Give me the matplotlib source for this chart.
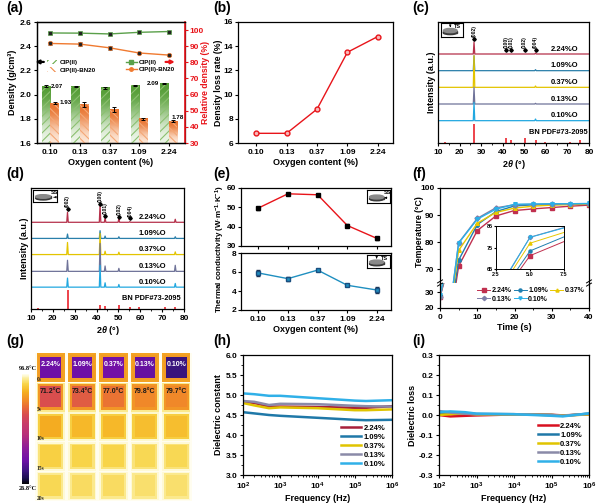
import numpy as np
import matplotlib
matplotlib.use('Agg')
import matplotlib.pyplot as plt
from matplotlib.patches import Rectangle, Ellipse, Patch
from matplotlib.lines import Line2D
from matplotlib.colors import LinearSegmentedColormap, Normalize
from matplotlib.cm import ScalarMappable
import matplotlib.ticker as mt

plt.rcParams.update({
    'font.family': ['Liberation Sans', 'DejaVu Sans'],
    'font.weight': 'bold',
    'axes.labelweight': 'bold',
    'axes.linewidth': 0.9,
    'xtick.labelsize': 6, 'ytick.labelsize': 6,
    'axes.labelsize': 6.5,
    'xtick.direction': 'out', 'ytick.direction': 'out',
    'xtick.major.size': 2.5, 'ytick.major.size': 2.5,
    'xtick.minor.size': 1.4, 'ytick.minor.size': 1.4,
    'xtick.major.width': 0.8, 'ytick.major.width': 0.8,
    'xtick.minor.width': 0.6, 'ytick.minor.width': 0.6,
    'xtick.major.pad': 1.5, 'ytick.major.pad': 1.5,
    'axes.labelpad': 1.5,
    'mathtext.fontset': 'custom',
    'mathtext.rm': 'Liberation Sans:bold',
    'mathtext.it': 'Liberation Sans:italic:bold',
    'mathtext.bf': 'Liberation Sans:bold',
    'mathtext.default': 'rm',
    'hatch.linewidth': 0.8,
})

# ---------------- data ----------------
oxygen = ['0.10', '0.13', '0.37', '1.09', '2.24']
series = ['2.24%', '1.09%', '0.37%', '0.13%', '0.10%']

dens_cip = [2.07, 2.065, 2.055, 2.078, 2.09]
dens_cip_err = [0.008, 0.005, 0.007, 0.004, 0.004]
dens_bn = [1.93, 1.92, 1.875, 1.80, 1.78]
dens_bn_err = [0.01, 0.02, 0.02, 0.008, 0.006]
rel_cip = [98.2, 98.1, 97.6, 98.6, 99.1]
rel_cip_err = [0.6, 0.5, 0.6, 0.5, 0.5]
rel_bn = [91.7, 91.3, 89.0, 85.8, 84.5]
rel_bn_err = [1.2, 1.2, 1.2, 0.9, 0.8]

loss_rate = [6.8, 6.8, 8.8, 13.5, 14.8]

tc_ss = [49.6, 57.0, 56.5, 40.6, 33.9]
tc_ss_err = [0.8, 0.6, 0.6, 0.8, 0.9]
tc_ts = [5.9, 5.3, 6.2, 4.6, 4.1]
tc_ts_err = [0.3, 0.2, 0.12, 0.1, 0.3]

# XRD (c) TS : baseline offsets and (2theta, height) peaks
xrd_ts_base = [267, 217, 167, 117, 67]
xrd_ts_peaks = [
    [(26.7, 36), (55.2, 3)],
    [(26.7, 45), (55.2, 3)],
    [(26.7, 95), (55.2, 4)],
    [(26.7, 50), (55.2, 2)],
    [(26.7, 55), (55.2, 5)],
]
ref_pos = [13.4, 26.7, 41.6, 43.9, 50.2, 55.2, 59.6, 71.4, 76.0]
ref_h_c = [4, 57, 15, 8, 14, 8, 4, 4, 8]
# XRD (d) SS
xrd_ss_base = [258, 210, 162, 112, 65]
xrd_ss_peaks = [
    [(26.7, 30), (41.6, 54), (43.9, 14), (50.2, 12), (55.2, 2), (76.0, 9)],
    [(26.7, 13), (41.6, 23), (43.9, 7), (50.2, 5), (76.0, 5)],
    [(26.7, 36), (41.6, 63), (43.9, 10), (50.2, 7), (76.0, 8)],
    [(26.7, 33), (41.6, 83), (43.9, 16), (50.2, 9), (76.0, 18)],
    [(26.7, 27), (41.6, 65), (43.9, 13), (50.2, 8), (76.0, 11)],
]
ref_h_d = [3, 57, 12, 8, 12, 7, 5, 5, 7]
hkl = ['(002)', '(100)', '(101)', '(102)', '(004)']
hkl_pos = [26.7, 41.6, 43.9, 50.2, 55.2]
hkl_y_c = [313, 280, 280, 280, 280]
hkl_y_d = [297, 312, 277, 275, 270]

# (f) temperature vs time
time_s = [0, 5, 10, 15, 20, 25, 30, 35, 40]
temp = [
    [27.0, 71.2, 84.3, 89.7, 91.7, 92.3, 92.8, 93.3, 93.7],
    [27.5, 73.4, 86.5, 91.3, 93.4, 93.8, 93.9, 94.0, 94.0],
    [28.0, 77.0, 87.0, 91.0, 92.6, 93.3, 93.7, 93.9, 94.0],
    [27.0, 79.8, 88.8, 92.7, 93.8, 94.0, 94.1, 94.2, 94.2],
    [28.5, 79.7, 88.5, 92.2, 94.0, 94.1, 94.2, 94.2, 94.3],
]

# (g) infrared images: temperatures per row (0s..20s) and column (sample)
ir_times = ['0s', '5s', '10s', '15s', '20s']
ir_inner = [
    [42, 42, 43, 41, 35],
    [71.2, 73.4, 77.0, 79.8, 79.7],
    [85.0, 86.5, 86.5, 87.5, 87.5],
    [89.8, 90.5, 90.5, 91.0, 91.0],
    [91.0, 91.5, 91.5, 92.0, 92.0],
]
ir_ring = [82.5, 81.5, 89.5, 92.5, 93.5]
ir_outer = [83.5, 93.5, 95.5, 95.8, 95.8]
ir_labels_t5 = ['71.2°C', '73.4°C', '77.0°C', '79.8°C', '79.7°C']
ir_min, ir_max = 26.8, 96.8

# (h), (i) dielectric
freq = [1e2, 2e2, 5e2, 1e3, 1e4, 1e5, 2e5, 1e6]
eps = [
    [4.83, 4.80, 4.71, 4.71, 4.70, 4.68, 4.68, 4.72],
    [4.57, 4.54, 4.50, 4.48, 4.43, 4.38, 4.37, 4.38],
    [4.80, 4.74, 4.67, 4.69, 4.67, 4.62, 4.62, 4.64],
    [4.85, 4.83, 4.75, 4.78, 4.77, 4.73, 4.72, 4.71],
    [5.04, 5.02, 4.98, 4.98, 4.92, 4.86, 4.85, 4.87],
]
loss = [
    [0.000, -0.007, -0.004, -0.002, 0.003, 0.001, -0.002, 0.003],
    [0.012, 0.010, 0.008, 0.005, 0.004, 0.000, -0.004, 0.007],
    [0.000, 0.004, 0.008, 0.003, 0.003, 0.000, -0.003, 0.003],
    [0.020, 0.012, 0.006, 0.004, 0.004, 0.000, -0.004, 0.006],
    [0.015, 0.018, 0.014, 0.007, 0.004, -0.004, -0.007, 0.008],
]

# ---------------- styling ----------------
c_xrd = ['#b5304a', '#2a7faa', '#e3c400', '#6f7399', '#22a8e0']
c_f = ['#c0304f', '#1f7fb0', '#e8c800', '#7f7fa8', '#2ab0e8']
m_f = ['s', 'o', '^', 'D', 'v']
c_h = ['#a8203a', '#1f78a8', '#e0c400', '#8a8aa8', '#30b0e8']
c_i = ['#d81020', '#1f78a8', '#e0c400', '#8a8aa8', '#30b0e8']
RED = '#e8141a'

W, H = 600, 503
fig = plt.figure(figsize=(6, 5.03), dpi=100)


def ax_px(x0, x1, y0, y1):
    return fig.add_axes([x0 / W, 1 - y1 / H, (x1 - x0) / W, (y1 - y0) / H])


def plabel(x, y, s):
    fig.text(x / W, 1 - y / H, s, fontsize=10, fontweight='bold', ha='left', va='center')


def icon(x0, x1, y0, y1, kind):
    a = ax_px(x0, x1, y0, y1)
    a.set_xlim(0, 1); a.set_ylim(0, 1)
    a.set_xticks([]); a.set_yticks([])
    for s in a.spines.values():
        s.set_linewidth(0.8)
    a.add_patch(Ellipse((0.42, 0.32), 0.62, 0.3, color='#3a3a3a'))
    a.add_patch(Rectangle((0.11, 0.32), 0.62, 0.14, color='#3a3a3a'))
    a.add_patch(Ellipse((0.42, 0.46), 0.62, 0.3, color='#8a8a8a'))
    if kind == 'TS':
        a.annotate('', xy=(0.42, 0.5), xytext=(0.42, 0.98),
                   arrowprops=dict(arrowstyle='-|>', lw=0.5, color='k', mutation_scale=3))
        a.text(0.6, 0.95, 'TS', fontsize=4, va='top')
    else:
        a.annotate('', xy=(0.75, 0.4), xytext=(0.99, 0.4),
                   arrowprops=dict(arrowstyle='-|>', lw=0.5, color='k', mutation_scale=3))
        a.text(0.74, 0.98, 'SS', fontsize=4, va='top')


xcat = np.arange(len(oxygen))

# ---------------- (a) ----------------
axa = ax_px(37, 185, 22, 143)
w = 0.29


def grad_bar(ax, xc, h, top, bot, hatch, hcol):
    cm = LinearSegmentedColormap.from_list('gb', [bot, top])
    ax.imshow([[0], [1]], extent=(xc - w / 2, xc + w / 2, 1.6, h), origin='lower',
              cmap=cm, aspect='auto', interpolation='bicubic', zorder=2)
    ax.bar(xc, h, w, color='none', edgecolor=hcol, hatch=hatch, lw=0, zorder=3)


for i in range(len(oxygen)):
    grad_bar(axa, xcat[i] - w / 2, dens_cip[i], '#4f9a2f', '#f2f8ee', '////', '#8cc070')
    grad_bar(axa, xcat[i] + w / 2, dens_bn[i], '#e8702a', '#fdeadb', '\\\\\\\\', '#f4a877')
axa.errorbar(xcat - w / 2, dens_cip, yerr=dens_cip_err, fmt='none', ecolor='k',
             elinewidth=0.7, capsize=1.6, capthick=0.7, zorder=4)
axa.errorbar(xcat + w / 2, dens_bn, yerr=dens_bn_err, fmt='none', ecolor='k',
             elinewidth=0.7, capsize=1.6, capthick=0.7, zorder=4)
axa.set_xlim(-0.45, 4.55)
axa.set_ylim(1.6, 2.6)
axa.set_yticks(np.arange(1.6, 2.61, 0.2))
axa.yaxis.set_major_formatter(mt.FormatStrFormatter('%.1f'))
axa.set_xticks(xcat)
axa.set_xticklabels(oxygen)
axa.set_xlabel('Oxygen content (%)')
axa.set_ylabel('Density (g/cm³)')
fs_lab = 4.5
axa.text(xcat[0] + 0.02, dens_cip[0], f'{dens_cip[0]:.2f}', fontsize=fs_lab, va='center', zorder=6)
axa.text(xcat[0] + w + 0.02, dens_bn[0] + 0.005, f'{dens_bn[0]:.2f}', fontsize=fs_lab, va='center', zorder=6)
axa.text(xcat[4] - w - 0.02, dens_cip[4], f'{dens_cip[4]:.2f}', fontsize=fs_lab, va='center', ha='right', zorder=6)
axa.text(xcat[4] + 0.08, dens_bn[4] + 0.008, f'{dens_bn[4]:.2f}', fontsize=fs_lab, va='bottom', zorder=6)

axa2 = axa.twinx()
axa2.errorbar(xcat, rel_cip, yerr=rel_cip_err, color='#5aa04a', lw=1, marker='s', ms=3.2,
              mfc='#222222', mec='#5aa04a', mew=0.5, ecolor='k', elinewidth=0.6, capsize=1.5)
axa2.errorbar(xcat, rel_bn, yerr=rel_bn_err, color='#f07a30', lw=1, marker='o', ms=3.2,
              mfc='#222222', mec='#f07a30', mew=0.5, ecolor='k', elinewidth=0.6, capsize=1.5)
axa2.set_ylim(30, 105)
axa2.set_yticks(np.arange(30, 101, 10))
axa2.set_ylabel('Relative density (%)', color=RED, fontsize=6.3)
axa2.yaxis.set_label_coords((201.5 - 37) / 148, 0.5)
axa2.tick_params(axis='y', colors=RED, pad=1)
axa2.spines['right'].set_color(RED)
axa2.spines['right'].set_linewidth(1.2)
axa2.set_xlim(-0.45, 4.55)

h_bar = [Patch(facecolor='white', edgecolor='#6aaa4a', hatch='////', lw=0),
         Patch(facecolor='white', edgecolor='#f08a4a', hatch='\\\\\\\\', lw=0)]
lg1 = axa2.legend(h_bar, ['CIP(II)', 'CIP(II)-BN20'], loc='center left',
                  bbox_to_anchor=(0.07, 0.635), frameon=False, fontsize=4.5,
                  handlelength=1.6, handleheight=0.8, labelspacing=0.3, borderpad=0,
                  borderaxespad=0, handletextpad=0.4)
axa2.add_artist(lg1)
h_line = [Line2D([], [], color='#5aa04a', marker='s', ms=2.5, lw=1),
          Line2D([], [], color='#f07a30', marker='o', ms=2.5, lw=1)]
axa2.legend(h_line, ['CIP(II)', 'CIP(II)-BN20'], loc='center left',
            bbox_to_anchor=(0.6, 0.635), frameon=False, fontsize=4.5,
            handlelength=1.8, labelspacing=0.3, borderpad=0, borderaxespad=0,
            handletextpad=0.3)
axa2.annotate('', xy=(-0.03, 0.67), xytext=(0.065, 0.67), xycoords='axes fraction',
              arrowprops=dict(arrowstyle='-|>', color='k', lw=1.6, mutation_scale=5),
              annotation_clip=False)
axa2.annotate('', xy=(0.95, 0.67), xytext=(0.85, 0.67), xycoords='axes fraction',
              arrowprops=dict(arrowstyle='-|>', color=RED, lw=1.6, mutation_scale=5),
              annotation_clip=False)

# ---------------- (b) ----------------
axb = ax_px(238, 393, 22, 143)
axb.plot(xcat, loss_rate, '-o', color=RED, mfc='#f8b8b8', mec=RED, ms=3.5, lw=1)
axb.set_xlim(-0.6, 4.5)
axb.set_ylim(6, 16)
axb.set_yticks(np.arange(6, 16.1, 2))
axb.set_xticks(xcat)
axb.set_xticklabels(oxygen)
axb.tick_params(axis='y', pad=1)
axb.set_xlabel('Oxygen content (%)')
axb.set_ylabel('Density loss rate (%)', fontsize=6.3)
axb.yaxis.set_label_coords((223 - 238) / 155, 0.5)


# ---------------- (c), (d) XRD ----------------
def xrd_line(base, peaks):
    xs = [10.0]; ys = [base]
    for p, hgt in peaks:
        xs += [p - 0.35, p, p + 0.35]
        ys += [base, base + hgt, base]
    xs.append(80.0); ys.append(base)
    return xs, ys


def xrd_panel(ax, bases, peaks, ref_h, top, lab_x, hkl_y, ref_x):
    for k in range(5):
        xs, ys = xrd_line(bases[k], peaks[k])
        ax.plot(xs, ys, color=c_xrd[k], lw=0.9)
        ax.text(lab_x, bases[k] + 4, series[k] + 'O', fontsize=5.5, ha='right', va='bottom')
    ax.vlines(ref_pos, 0, ref_h, color='#e8101a', lw=1.1)
    ax.text(ref_x, 30, 'BN PDF#73-2095', fontsize=5.3, ha='right', va='center')
    for p, s, yy in zip(hkl_pos, hkl, hkl_y):
        ax.plot([p], [yy], marker='D', ms=1.8, color='k')
        ax.text(p, yy + 5, s, fontsize=3.6, rotation=90, ha='center', va='bottom')
    ax.set_xlim(10, 80)
    ax.set_ylim(0, top)
    ax.set_xticks(np.arange(10, 81, 10))
    ax.xaxis.set_minor_locator(mt.MultipleLocator(5))
    ax.set_yticks([])
    ax.set_xlabel(r'2$\mathit{\theta}$ (°)')
    ax.set_ylabel('Intensity (a.u.)')


axc = ax_px(438, 589, 22, 143)
xrd_panel(axc, xrd_ts_base, xrd_ts_peaks, ref_h_c, 363, 75, hkl_y_c, 79.3)
icon(441, 463, 23, 37, 'TS')

axd = ax_px(31, 184, 188, 309)
xrd_panel(axd, xrd_ss_base, xrd_ss_peaks, ref_h_d, 360, 72, hkl_y_d, 78.5)
icon(33, 57, 190, 202, 'SS')

# ---------------- (e) ----------------
axe1 = ax_px(241, 391, 188, 246)
axe2 = ax_px(241, 391, 253, 310)
axe1.errorbar(xcat, tc_ss, yerr=tc_ss_err, color=RED, lw=1, marker='s', ms=3,
              mfc='k', mec='k', ecolor='k', elinewidth=0.6, capsize=1.5)
axe2.errorbar(xcat, tc_ts, yerr=tc_ts_err, color='#1f8fc0', lw=1, marker='s', ms=3,
              mfc='#1f8fc0', mec='#1a4f80', ecolor='#1a3050', elinewidth=0.6, capsize=1.5)
for a in (axe1, axe2):
    a.set_xlim(-0.58, 4.47)
    a.set_xticks(xcat)
    a.tick_params(axis='y', pad=1)
axe1.set_xticklabels([])
axe2.set_xticklabels(oxygen)
axe1.set_ylim(30, 60); axe1.set_yticks([30, 40, 50, 60])
axe2.set_ylim(2, 8); axe2.set_yticks([2, 4, 6, 8])
axe2.set_xlabel('Oxygen content (%)')
fig.text(220 / W, 1 - 249 / H, r'Thermal conductivity (W$\cdot$m$^{-1}$$\cdot$K$^{-1}$)',
         rotation=90, ha='center', va='center', fontsize=5.8)
icon(367, 390, 190, 203, 'SS')
icon(367, 390, 255, 268, 'TS')

# ---------------- (f) ----------------
axf = ax_px(440, 589, 188, 283)
axf2 = ax_px(440, 589, 283, 308)
axfi = ax_px(496, 564, 226, 269)
handles = []
for k in range(5):
    for a in (axf, axf2, axfi):
        ln, = a.plot(time_s, temp[k], color=c_f[k], marker=m_f[k], ms=2.6 if a is not axfi else 2.2,
                     lw=1 if a is not axfi else 0.7, mec=c_f[k])
    handles.append(ln)
axf.set_xlim(0, 40); axf2.set_xlim(0, 40)
axf.set_ylim(65, 100); axf.set_yticks([70, 80, 90, 100])
axf2.set_ylim(20, 36); axf2.set_yticks([20, 30])
axf.set_xticks([])
axf.spines['bottom'].set_visible(False)
axf2.spines['top'].set_visible(False)
axf2.set_xticks(np.arange(0, 41, 10))
axf2.xaxis.set_minor_locator(mt.MultipleLocator(5))
axf2.set_xlabel('Time (s)')
fig.text(419 / W, 1 - 232 / H, 'Temperature (°C)', rotation=90, ha='center', va='center', fontsize=6.3)
axfi.set_xlim(2.5, 7.5); axfi.set_ylim(65, 85)
axfi.set_xticks([2.5, 5.0, 7.5]); axfi.set_yticks([65, 75, 85])
axfi.xaxis.set_major_formatter(mt.FormatStrFormatter('%.1f'))
axfi.tick_params(labelsize=4, length=1.5, pad=1)
for s in axfi.spines.values():
    s.set_linewidth(0.7)
for xs in (440, 589):
    for dy in (-1.6, 1.6):
        fig.add_artist(Line2D([(xs - 2.5) / W, (xs + 2.5) / W],
                              [1 - (283 + dy + 1.5) / H, 1 - (283 + dy - 1.5) / H],
                              color='k', lw=0.7))
order = [0, 3, 1, 4, 2]
fig.legend([handles[i] for i in order], [series[i] for i in order], ncol=3,
           loc='upper left', bbox_to_anchor=(477 / W, 1 - 287 / H), frameon=False,
           fontsize=5, handlelength=1.9, handletextpad=0.2, columnspacing=0.3,
           labelspacing=0.25, borderpad=0, borderaxespad=0)

# ---------------- (g) ----------------
ir_cmap = LinearSegmentedColormap.from_list('ironbow', [
    (0.00, '#050505'), (0.05, '#1a1050'), (0.12, '#3c1480'), (0.22, '#7010a8'),
    (0.32, '#8c1c9a'), (0.45, '#b8307a'), (0.55, '#c83c6a'), (0.63, '#d84c50'),
    (0.70, '#e86a38'), (0.76, '#f08a28'), (0.84, '#f5b020'), (0.91, '#f8d448'),
    (0.96, '#fbec98'), (1.00, '#fffff0')])
ir_norm = Normalize(ir_min, ir_max)
axg = ax_px(35, 192, 353, 501)
axg.set_xlim(0, 5); axg.set_ylim(5, 0)
axg.axis('off')
axg.add_patch(Rectangle((0, 0), 5, 5, color='#fffdf0', zorder=0))
for r in range(5):
    for c in range(5):
        axg.add_patch(Rectangle((c + 0.05, r + 0.01), 0.9, 0.97,
                                color=ir_cmap(ir_norm(ir_outer[r])), lw=0, zorder=1))
        axg.add_patch(Rectangle((c + 0.1, r + 0.06), 0.8, 0.86,
                                color=ir_cmap(ir_norm(ir_ring[r])), lw=0, zorder=2))
        axg.add_patch(Rectangle((c + 0.17, r + 0.12), 0.66, 0.72,
                                color=ir_cmap(ir_norm(ir_inner[r][c])), lw=0, zorder=3))
    axg.text(0.06, r + 0.9, ir_times[r], fontsize=4, family=['Liberation Serif', 'DejaVu Serif'],
             ha='left', va='center', color='#222222', zorder=5)
for c in range(5):
    axg.text(c + 0.5, 0.38, series[c], fontsize=5, color='white', ha='center', va='center', zorder=5)
    axg.text(c + 0.5, 1.3, ir_labels_t5[c], fontsize=5, color='#1a1a1a', ha='center', va='center', zorder=5)
cax = ax_px(22, 29, 374, 484)
cb = fig.colorbar(ScalarMappable(norm=ir_norm, cmap=ir_cmap), cax=cax)
cb.set_ticks([])
cb.outline.set_visible(False)
fig.text(28 / W, 1 - 369 / H, f'{ir_max}°C', fontsize=4.5, ha='center', va='center',
         family=['Liberation Serif', 'DejaVu Serif'])
fig.text(28 / W, 1 - 489 / H, f'{ir_min}°C', fontsize=4.5, ha='center', va='center',
         family=['Liberation Serif', 'DejaVu Serif'])


# ---------------- (h), (i) ----------------
def logfmt(v, pos):
    return r'$\mathbf{10^{%d}}$' % int(round(np.log10(v)))


def diel(ax, data, cols, ylim, step, ylabel, leg_anchor):
    for k in range(5):
        ax.plot(freq, data[k], color=cols[k], lw=1.8, label=series[k])
    ax.set_xscale('log')
    ax.set_xlim(1e2, 1e6)
    ax.set_ylim(*ylim)
    ax.set_yticks(np.arange(ylim[0], ylim[1] + 1e-9, step))
    ax.yaxis.set_major_formatter(mt.FormatStrFormatter('%.1f'))
    ax.yaxis.set_minor_locator(mt.AutoMinorLocator(2))
    ax.xaxis.set_major_locator(mt.LogLocator(base=10, numticks=10))
    ax.xaxis.set_major_formatter(mt.FuncFormatter(logfmt))
    ax.xaxis.set_minor_locator(mt.LogLocator(base=10, subs=np.arange(2, 10), numticks=20))
    ax.xaxis.set_minor_formatter(mt.NullFormatter())
    ax.set_xlabel('Frequency (Hz)')
    ax.set_ylabel(ylabel)
    ax.legend(loc='lower left', bbox_to_anchor=leg_anchor, frameon=False, fontsize=5.5,
              handlelength=2.6, labelspacing=0.22, handletextpad=0.3, borderpad=0,
              borderaxespad=0)


axh = ax_px(243, 392, 355, 475)
diel(axh, eps, c_h, (3.0, 6.0), 0.5, 'Dielectric constant', (0.66, 0.06))
axi = ax_px(439, 589, 355, 475)
diel(axi, loss, c_i, (-0.3, 0.3), 0.1, 'Dielectric loss', (0.66, 0.075))

# panel labels
plabel(6, 8, '(a)'); plabel(213, 8, '(b)'); plabel(412, 8, '(c)')
plabel(6, 174, '(d)'); plabel(213, 174, '(e)'); plabel(412, 174, '(f)')
plabel(6, 341, '(g)'); plabel(213, 341, '(h)'); plabel(412, 341, '(i)')

fig.savefig('out.png', dpi=100)
